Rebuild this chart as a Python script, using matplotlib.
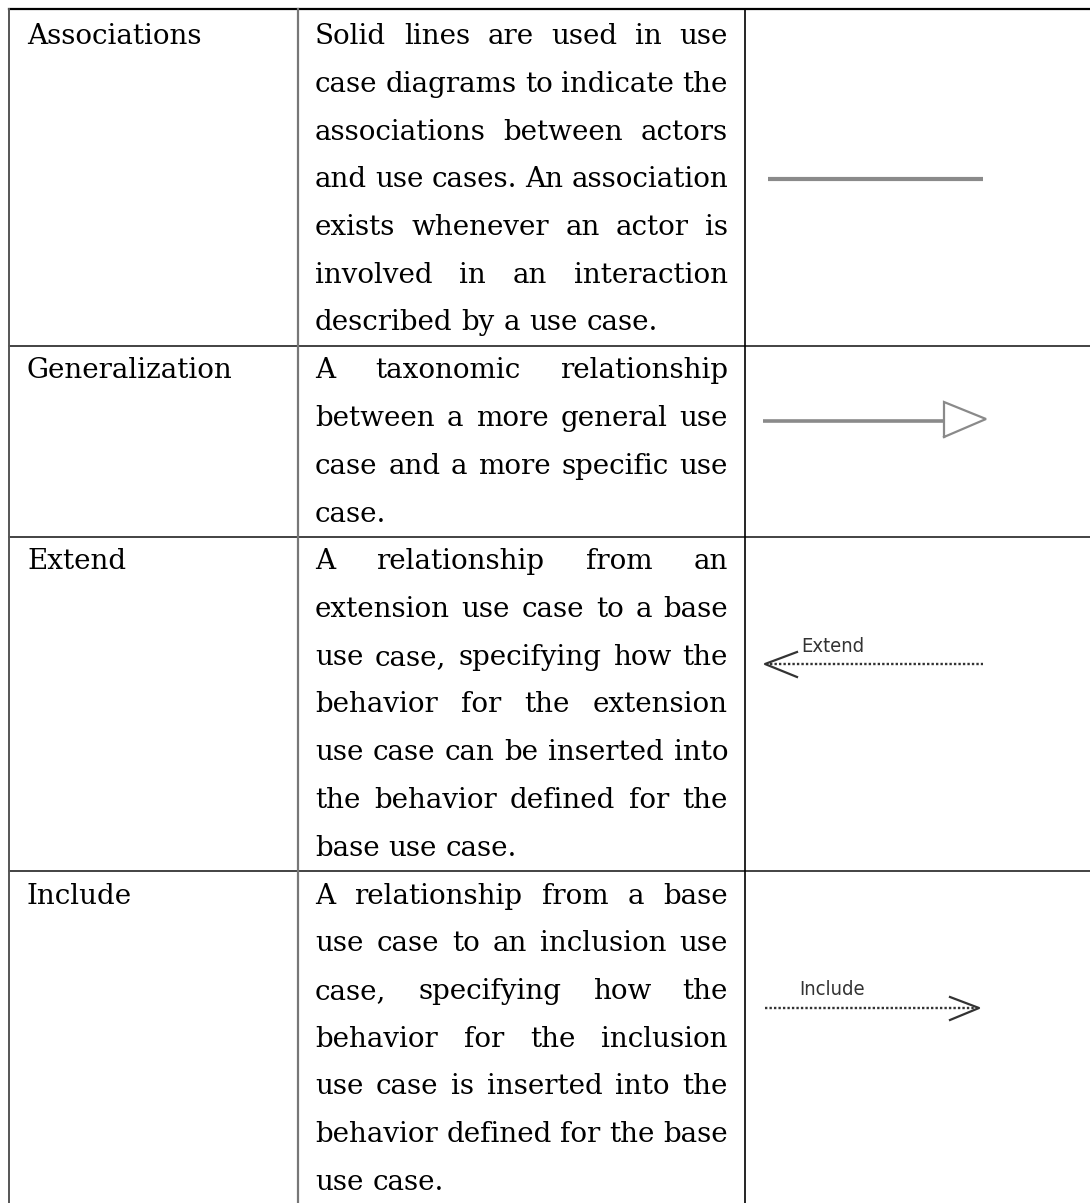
import matplotlib
matplotlib.use("Agg")
import matplotlib.pyplot as plt

# table content
terms = ["Associations", "Generalization", "Extend", "Include"]
descriptions = [
    ["Solid lines are used in use",
     "case diagrams to indicate the",
     "associations between actors",
     "and use cases. An association",
     "exists whenever an actor is",
     "involved in an interaction",
     "described by a use case."],
    ["A taxonomic relationship",
     "between a more general use",
     "case and a more specific use",
     "case."],
    ["A relationship from an",
     "extension use case to a base",
     "use case, specifying how the",
     "behavior for the extension",
     "use case can be inserted into",
     "the behavior defined for the",
     "base use case."],
    ["A relationship from a base",
     "use case to an inclusion use",
     "case, specifying how the",
     "behavior for the inclusion",
     "use case is inserted into the",
     "behavior defined for the base",
     "use case."],
]
symbol_labels = ["", "", "Extend", "Include"]

W, H = 1090, 1203
fig = plt.figure(figsize=(W / 100, H / 100), dpi=100)
ax = fig.add_axes([0, 0, 1, 1])
ax.set_xlim(0, W)
ax.set_ylim(H, 0)
ax.axis("off")
renderer = fig.canvas.get_renderer()

SERIF = "DejaVu Serif"
LINE = 47.75
FIRST = 44
X_LEFT, X_COL2, X_COL3 = 9, 298, 745
T1, T2L, T2R = 27, 315, 728


def text_width(s, size):
    t = ax.text(0, 0, s, fontsize=size, family=SERIF)
    w = t.get_window_extent(renderer).width
    t.remove()
    return w


# fit the font so "Generalization" is as wide as in the reference
fs = 20 * 206 / text_width("Generalization", 20)

# row geometry
row_tops = [9]
baselines = []
idx = 0
for lines in descriptions:
    b = [FIRST + (idx + i) * LINE for i in range(len(lines))]
    baselines.append(b)
    idx += len(lines)
    row_tops.append(b[-1] + 15)

# grid
ax.plot([X_LEFT, W], [9, 9], color="black", lw=1.6)
for y in row_tops[1:-1]:
    ax.plot([X_LEFT, W], [y, y], color="#222222", lw=1.2)
ax.plot([X_LEFT, X_LEFT], [9, H], color="#555555", lw=1.4)
ax.plot([X_COL2, X_COL2], [9, H], color="#777777", lw=1.6)
ax.plot([X_COL3, X_COL3], [9, H], color="black", lw=1.2)

# texts (middle column is justified)
sp = text_width("a b", fs) - text_width("ab", fs)
for r, lines in enumerate(descriptions):
    ax.text(T1, baselines[r][0], terms[r], fontsize=fs, family=SERIF,
            ha="left", va="baseline", color="black")
    for i, line in enumerate(lines):
        words = line.split()
        widths = [text_width(w, fs) for w in words]
        last = i == len(lines) - 1
        if last or len(words) == 1:
            gap = sp
        else:
            gap = max((T2R - T2L - sum(widths)) / (len(words) - 1), sp * 0.5)
        x = T2L
        for w, ww in zip(words, widths):
            ax.text(x, baselines[r][i], w, fontsize=fs, family=SERIF,
                    ha="left", va="baseline", color="black")
            x += ww + gap

# symbols
gray = "#8a8a8a"
# association
ax.plot([768, 983], [179, 179], color=gray, lw=3.0, solid_capstyle="butt")
# generalization
ax.plot([763, 944], [421, 421], color=gray, lw=2.6, solid_capstyle="butt")
ax.plot([944, 944, 986, 944], [437, 402, 419, 437], color=gray, lw=1.6,
        solid_joinstyle="miter")
# extend
dark = "#333333"
label_font = dict(fontsize=14.5, family="DejaVu Sans", fontstretch="condensed",
                  ha="center", va="baseline", color=dark)
ax.plot([770, 983], [664, 664], color=dark, lw=1.7, ls=(0, (1.0, 0.9)))
ax.plot([797, 765, 797], [652, 664, 677], color=dark, lw=1.6)
ax.text(833, 652, symbol_labels[2], **label_font)
# include
ax.plot([765, 976], [1008, 1008], color=dark, lw=1.7, ls=(0, (1.0, 0.9)))
ax.plot([950, 979, 950], [997, 1008, 1020], color=dark, lw=1.6)
ax.text(832, 995, symbol_labels[3], **label_font)

fig.savefig("out.png", dpi=100)
